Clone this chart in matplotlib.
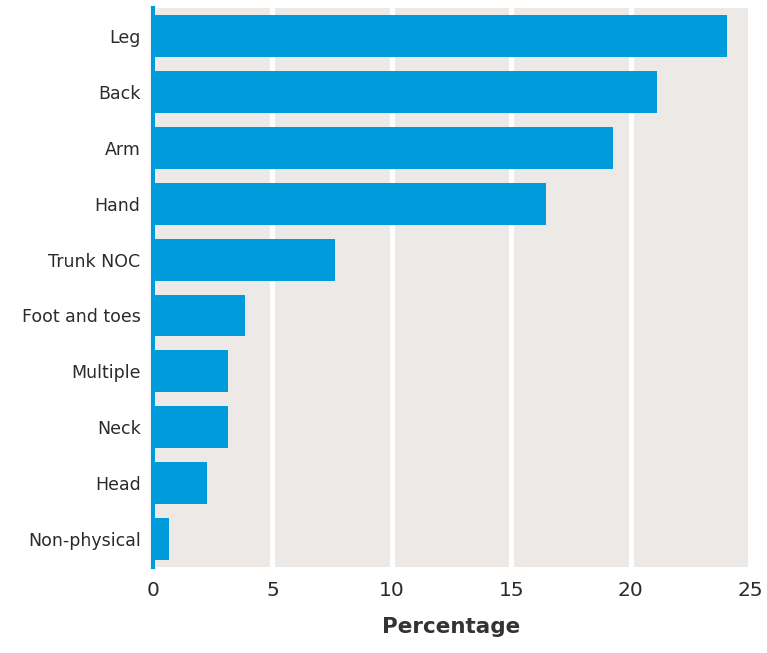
import matplotlib.pyplot as plt
import numpy as np

categories = ['Leg', 'Back', 'Arm', 'Hand', 'Trunk NOC', 'Foot and toes',
              'Multiple', 'Neck', 'Head', 'Non-physical']
values = [24.05, 21.1, 19.25, 16.45, 7.6, 3.85, 3.15, 3.15, 2.25, 0.65]
xticks = [0, 5, 10, 15, 20, 25]

BLUE = '#009bdb'
BG = '#ede9e6'
TXT = '#2b2b2b'

fig = plt.figure(figsize=(7.67, 6.53), dpi=100)
ax = fig.add_axes([0.1995, 0.1317, 0.7785, 0.856])
ax.set_facecolor(BG)

y = np.arange(len(categories))
ax.barh(y, values, height=0.75, color=BLUE, zorder=3)

ax.set_xlim(0, 25)
ax.set_ylim(len(categories) - 0.5, -0.5)
ax.set_xticks(xticks)
ax.set_xticklabels([str(t) for t in xticks], fontsize=14.5, color=TXT)
ax.set_yticks(y)
ax.set_yticklabels(categories, fontsize=12.5, color=TXT)
ax.tick_params(length=0, pad=9)
ax.tick_params(axis='x', pad=10)

ax.grid(axis='x', color='white', linewidth=3.5, zorder=2)
ax.set_axisbelow(True)
for s in ['top', 'right', 'bottom']:
    ax.spines[s].set_visible(False)
ax.spines['left'].set_color(BLUE)
ax.spines['left'].set_linewidth(3)
ax.spines['left'].set_zorder(4)

ax.set_xlabel('Percentage', fontsize=15.5, fontweight='bold', color='#333333', labelpad=12)

fig.savefig('out.png', dpi=100, facecolor='white')
